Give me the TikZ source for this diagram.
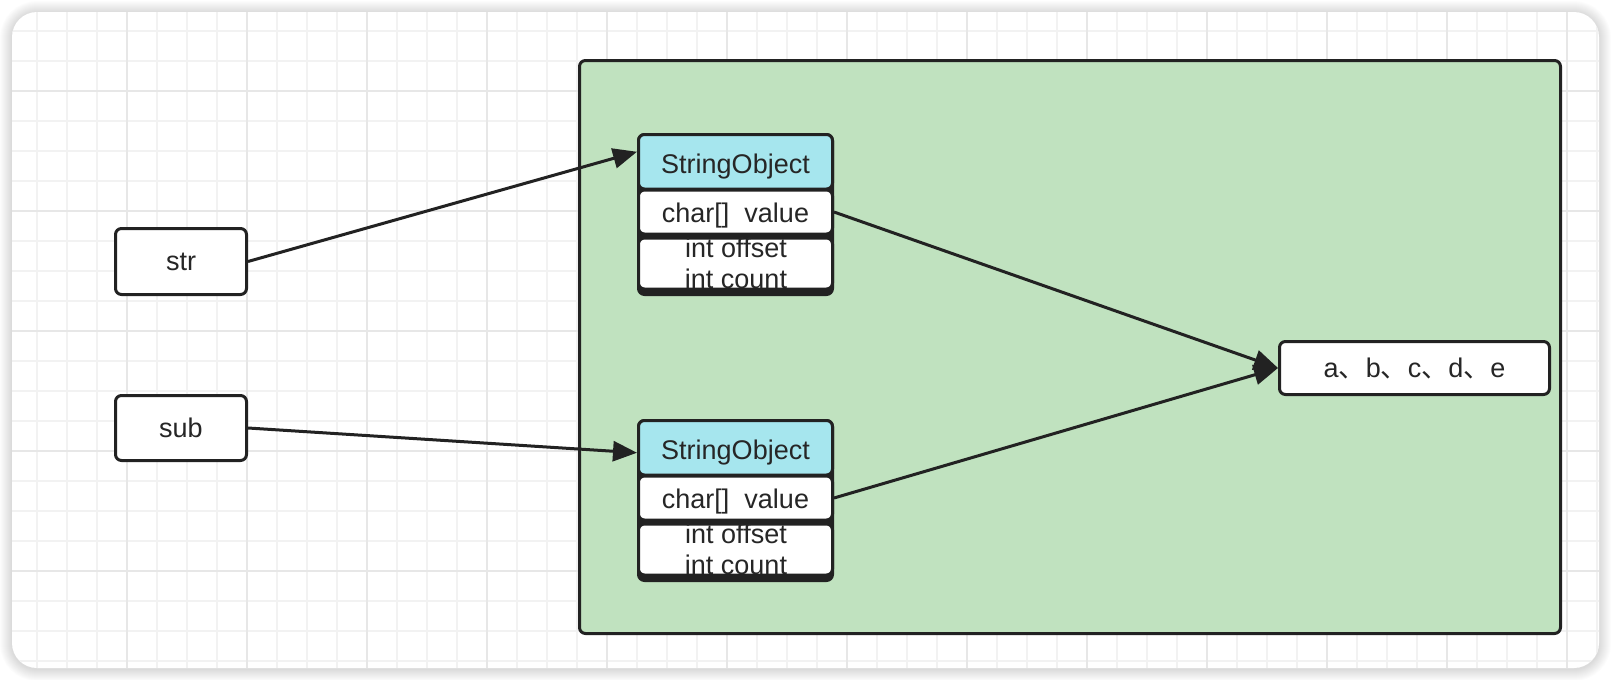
\documentclass[tikz,border=0pt]{standalone}
\usepackage{fontspec}
\setmainfont{Liberation Sans}
\newfontfamily\cjkfont{Noto Sans CJK SC}
\newcommand\dunhao{{\cjkfont 、}}
\usetikzlibrary{arrows.meta}
\definecolor{ink}{HTML}{222222}
\definecolor{inktext}{HTML}{262626}
\definecolor{boxgreen}{RGB}{192,226,191}
\definecolor{hdrcyan}{RGB}{166,230,238}
\definecolor{gridminor}{RGB}{242,242,242}
\definecolor{gridmajor}{RGB}{231,231,231}
\begin{document}
\begin{tikzpicture}[x=0.5pt,y=-0.5pt,
  txt/.style={font=\fontsize{13.5pt}{16pt}\selectfont, text=inktext},
  outlined/.style={draw=ink, line width=1.5pt, rounded corners=3pt, inner sep=0pt},
  plainbox/.style={outlined, fill=white, txt, text height=9.5pt, text depth=0.5pt},
  body/.style={outlined, fill=ink, minimum width=97pt, minimum height=80pt},
  header/.style={outlined, fill=hdrcyan, minimum width=97pt, minimum height=27.25pt, txt, text height=12pt, text depth=0pt},
  valcell/.style={outlined, fill=white, minimum width=97pt, minimum height=22pt, txt, text height=10pt, text depth=0pt},
  infocell/.style={outlined, fill=white, minimum width=97pt, minimum height=25.5pt},
  celltext/.style={txt, anchor=base, inner sep=0pt},
  link/.style={draw=ink, line width=1.5pt, -{Triangle[length=12pt,width=10pt]}},
]
\useasboundingbox (0,0) rectangle (1612,680);
% shadow of the sheet
\foreach \w in {1,2,...,12}
  \draw[black, opacity=0.011, line width=\w pt, rounded corners=12.5pt] (12,13) rectangle (1599,669);
% sheet
\fill[white, rounded corners=12.5pt] (12,12) rectangle (1599,668);
\begin{scope}
  \clip[rounded corners=12.5pt] (12,12) rectangle (1599,668);
  \foreach \x in {37,67,...,1597} \draw[gridminor, line width=1pt] (\x,12) -- (\x,668);
  \foreach \y in {31,61,...,661} \draw[gridminor, line width=1pt] (12,\y) -- (1599,\y);
  \foreach \x in {127,247,...,1567} \draw[gridmajor, line width=1pt] (\x,12) -- (\x,668);
  \foreach \y in {91,211,...,571} \draw[gridmajor, line width=1pt] (12,\y) -- (1599,\y);
\end{scope}

% heap container
\node[outlined, fill=boxgreen, minimum width=490.5pt, minimum height=286.5pt] (heap) at (1070,347) {};

% variables
\node[plainbox, minimum width=65.5pt, minimum height=33pt] (str) at (181,261.5) {str};
\node[plainbox, minimum width=65.5pt, minimum height=32.5pt] (sub) at (181,428) {sub};
\node[plainbox, minimum width=135pt, minimum height=26.5pt] (abc) at (1414.5,368) {a\dunhao b\dunhao c\dunhao d\dunhao e};

% first StringObject
\node[body] (b1) at (735.5,214.5) {};
\node[header] (h1) at (735.5,161.75) {StringObject};
\node[valcell] (v1) at (735.5,212) {char[]\ \ value};
\node[infocell] (i1) at (735.5,263.5) {};
\node[celltext] (o1) at (736,257) {int offset};
\node[celltext] (c1) at (736,288) {int count};

% second StringObject
\node[body] (b2) at (735.5,500.5) {};
\node[header] (h2) at (735.5,447.75) {StringObject};
\node[valcell] (v2) at (735.5,498) {char[]\ \ value};
\node[infocell] (i2) at (735.5,549.5) {};
\node[celltext] (o2) at (736,543) {int offset};
\node[celltext] (c2) at (736,574) {int count};

% connectors
\draw[link] (str.east) -- ([yshift=5pt]h1.west);
\draw[link] (sub.east) -- ([yshift=-2.5pt]h2.west);
\draw[link] (v1.east) -- (abc.west);
\draw[link] (v2.east) -- (abc.west);
\end{tikzpicture}
\end{document}
